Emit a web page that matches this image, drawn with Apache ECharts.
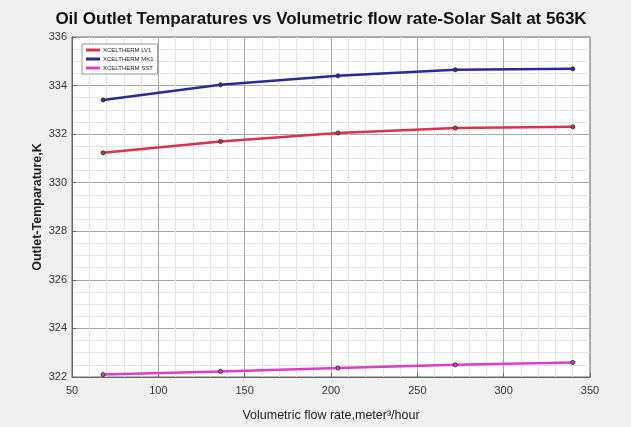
<!DOCTYPE html>
<html>
<head>
<meta charset="utf-8">
<script src="https://cdn.jsdelivr.net/npm/echarts@6/dist/echarts.min.js"></script>
<style>
  html, body { margin: 0; padding: 0; background: #f0f0f0; }
  #chart { width: 631px; height: 427px; }
</style>
</head>
<body>
<div id="chart"></div>
<script>
var flowRate = [68, 136, 204, 272, 340];
var lv1 = [331.23, 331.7, 332.05, 332.25, 332.3];
var mk1 = [333.41, 334.03, 334.4, 334.65, 334.69];
var sst = [322.1, 322.23, 322.37, 322.5, 322.6];
var seriesNames = ['XCELTHERM LV1', 'XCELTHERM MK1', 'XCELTHERM SST'];

function pairs(xs, ys) {
    return xs.map(function(x, i) { return [x, ys[i]]; });
}

var lineColors = ['#d8344c', '#2a2a9c', '#e03ccc'];

function makeSeries(name, values, color) {
    return {
        name: name,
        type: 'line',
        data: pairs(flowRate, values),
        symbol: 'circle',
        symbolSize: 4,
        itemStyle: { color: color, borderColor: '#333', borderWidth: 1 },
        lineStyle: { color: color, width: 2.5 },
        emphasis: { disabled: true }
    };
}

var axisFont = 'Liberation Sans Narrow, Liberation Sans, sans-serif';

var option = {
    backgroundColor: '#f0f0f0',
    animation: false,
    title: {
        text: 'Oil Outlet Temparatures vs Volumetric flow rate-Solar Salt at 563K',
        left: 316,
        textAlign: 'center',
        top: 6,
        textStyle: { fontSize: 17, fontWeight: 'bold', color: '#111', fontFamily: 'Liberation Sans, Arial, sans-serif' }
    },
    legend: {
        data: seriesNames,
        orient: 'vertical',
        left: 82,
        top: 44,
        itemWidth: 14,
        itemHeight: 3,
        itemGap: 3,
        padding: [3, 4],
        backgroundColor: '#fff',
        borderColor: '#999',
        borderWidth: 1,
        icon: 'rect',
        itemStyle: { borderWidth: 0 },
        textStyle: { fontSize: 6, color: '#222', padding: [0, 0, 0, -2] }
    },
    grid: {
        left: 72,
        right: 41,
        top: 37,
        bottom: 49,
        show: true,
        backgroundColor: '#fff',
        borderColor: '#666',
        borderWidth: 1
    },
    xAxis: {
        type: 'value',
        min: 50,
        max: 350,
        interval: 50,
        name: 'Volumetric flow rate,meter\u00b3/hour',
        nameLocation: 'middle',
        nameGap: 32,
        nameTextStyle: { fontSize: 12.5, color: '#222', fontFamily: 'Liberation Sans, Arial, sans-serif' },
        axisLine: { lineStyle: { color: '#666' } },
        axisTick: { inside: true, length: 4, lineStyle: { color: '#666' } },
        axisLabel: { color: '#333', fontSize: 11, fontFamily: axisFont },
        splitLine: { show: true, lineStyle: { color: '#a8a8a8', width: 1 } },
        minorTick: { show: false, splitNumber: 5 },
        minorSplitLine: { show: true, lineStyle: { color: '#e4e4e4', width: 1 } }
    },
    yAxis: {
        type: 'value',
        min: 322,
        max: 336,
        interval: 2,
        name: 'Outlet-Temparature,K',
        nameLocation: 'middle',
        nameGap: 28,
        nameMoveOverlap: false,
        nameTextStyle: { fontSize: 12.5, color: '#222', fontWeight: 'bold', fontFamily: 'Liberation Sans, Arial, sans-serif' },
        axisLine: { show: true, lineStyle: { color: '#666' } },
        axisTick: { show: true, inside: true, length: 4, lineStyle: { color: '#666' } },
        axisLabel: { color: '#333', fontSize: 11, margin: 5, fontFamily: axisFont },
        splitLine: { show: true, lineStyle: { color: '#a8a8a8', width: 1 } },
        minorTick: { show: false, splitNumber: 4 },
        minorSplitLine: { show: true, lineStyle: { color: '#e4e4e4', width: 1 } }
    },
    series: [
        makeSeries(seriesNames[0], lv1, lineColors[0]),
        makeSeries(seriesNames[1], mk1, lineColors[1]),
        makeSeries(seriesNames[2], sst, lineColors[2])
    ]
};

var myChart = echarts.init(document.getElementById('chart'));
myChart.setOption(option);
</script>
</body>
</html>
